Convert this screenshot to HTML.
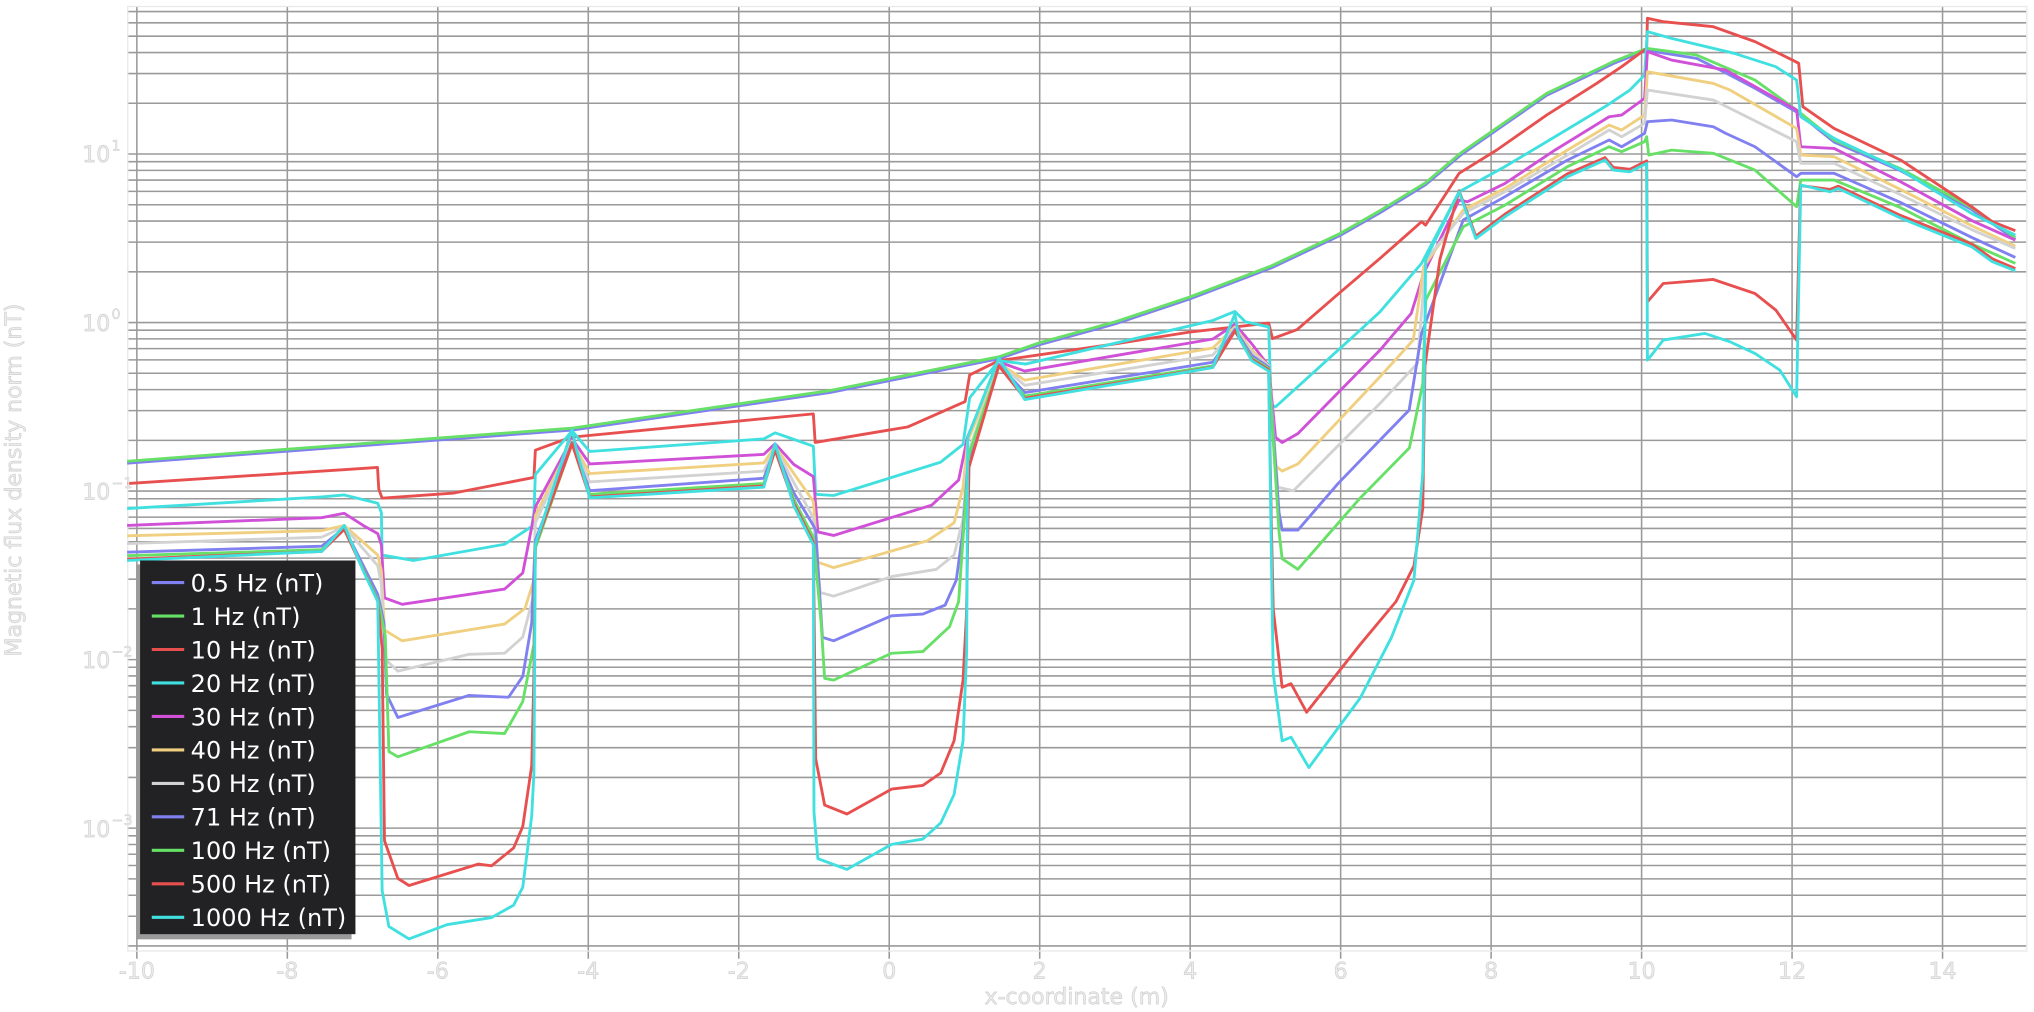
<!DOCTYPE html>
<html><head><meta charset="utf-8"><style>
html,body{margin:0;padding:0;background:#fff;}
svg{display:block;}
text{font-family:"DejaVu Sans","Liberation Sans",sans-serif;}
</style></head><body>
<svg width="2034" height="1012" viewBox="0 0 1568 780" preserveAspectRatio="none" xmlns="http://www.w3.org/2000/svg">
<rect x="0" y="0" width="1568" height="780" fill="#fff"/>
<g stroke="#9a9a9a" stroke-width="1.2" fill="none">
<path d="M98,118.7H1562M98,79.6H1562M98,56.7H1562M98,40.5H1562M98,27.9H1562M98,17.6H1562M98,8.9H1562
M98,248.6H1562M98,209.5H1562M98,186.6H1562M98,170.4H1562M98,157.8H1562M98,147.5H1562M98,138.8H1562M98,131.3H1562M98,124.6H1562
M98,378.5H1562M98,339.4H1562M98,316.5H1562M98,300.3H1562M98,287.7H1562M98,277.4H1562M98,268.7H1562M98,261.2H1562M98,254.5H1562
M98,508.4H1562M98,469.3H1562M98,446.4H1562M98,430.2H1562M98,417.6H1562M98,407.3H1562M98,398.6H1562M98,391.1H1562M98,384.4H1562
M98,638.3H1562M98,599.2H1562M98,576.3H1562M98,560.1H1562M98,547.5H1562M98,537.2H1562M98,528.5H1562M98,521H1562M98,514.3H1562
M98,729.1H1562M98,706.2H1562M98,690H1562M98,677.4H1562M98,667.1H1562M98,658.4H1562M98,650.9H1562M98,644.2H1562"/>
<path d="M105.5,5V739M221.5,5V739M337.5,5V739M453.5,5V739M569.5,5V739M685.5,5V739M801.5,5V739M917.5,5V739M1033.5,5V739M1149.5,5V739M1265.5,5V739M1381.5,5V739M1497.5,5V739"/>
</g>
<rect x="98.5" y="5" width="1464" height="728" fill="none" stroke="#e8e8e8" stroke-width="1"/>
<g fill="none" stroke-width="2.2" stroke-linejoin="round">
<polyline stroke="#8080f0" points="98,357 265,344.5 441,331.5 640,302.5 770,276.5 802,265.5 860,249.5 917,230.5 980,206.5 1033,181.5 1063.8,164 1099,142.3 1126.4,119.2 1192.3,73.5 1243.7,49 1269.4,38.8 1307.9,45 1330,56 1352.9,68 1385,86.3 1413.9,109.5 1465,131.5 1520,161.5 1553.6,184.5"/>
<polyline stroke="#66e066" points="98,355.5 265,343 441,330 640,301 770,275 802,264 860,248 917,229 980,205 1033,180 1063.8,162.4 1099,140.8 1126.4,117.7 1192.3,72 1243.7,47.5 1269.4,37.3 1307.9,42.4 1352.9,61.7 1385,84.8 1413.9,108 1465,130 1520,160 1553.6,183"/>
<polyline stroke="#e85050" points="98,372.7 265,362 291,360.3 292,377 294.6,384 350,380 411.6,368 412.7,347 440,337 627,319 628.4,341 700,329 744,309.5 747.5,289 770,278 860,265 917,256 978,249 981,261 1000,254 1030,228 1063.8,199.2 1095.9,170.9 1099,173.5 1124.8,133.6 1153.7,115.7 1192.3,88.7 1230.8,64.3 1250.1,51.4 1269.4,37.3 1270,14.1 1282.2,16.7 1320.8,20.6 1352.9,32.1 1381.8,46.3 1386.6,48.8 1389.8,82.2 1413.9,99 1465.3,123.4 1519.9,159.3 1535.9,170.9 1553.6,177.8"/>
<polyline stroke="#40e0e0" points="98,392 248,383 265.4,381.5 291.2,387.9 294,395 294.6,427.8 318.7,432 389,419.5 409.9,405.8 411.6,395 412.7,365.8 441,332 454.6,348 588.8,338.3 597.5,333.6 610,338 627,343.9 628.8,381 642.6,381.9 725,356.3 742.4,342.5 747.5,306.7 770,278 790.6,280.6 935,247 952,240 960,248 978,252 980,312 983.3,313.6 1048.6,254.4 1063.8,240.3 1095.9,203 1124.8,147.8 1160,128.5 1198.7,105.4 1237.3,82.2 1256.5,69.4 1267.8,57.8 1270,24.4 1288.6,29.6 1336.8,41.1 1368.9,51.4 1385,61.7 1388.2,90 1413.9,106.7 1465.3,131 1519.9,164.5 1553.6,181.2"/>
<polyline stroke="#d050d8" points="98,405 248,399 265.4,395.6 280,405 291.2,411.3 294,420 296.4,460.8 310,465.8 389,454 403,441.6 411.6,397.5 412.7,390.6 441,338 454.6,357.6 588.8,350.2 597.5,342 612,358 627,367.3 630.5,410 642.6,412.7 718.3,389.3 739,370 745.8,337 770,279 790,286 935,261.3 952,250 965,265 978,282 983.3,337 988.4,341.1 1000.5,334.2 1063.8,269.9 1087.9,241.6 1097.5,210.7 1124.8,154.2 1131.3,155.5 1160.2,141.4 1198.7,115.7 1240.5,90 1250.1,88.7 1267.8,75.8 1270,39.8 1288.6,46.3 1330.4,54 1385,84.8 1388.2,113.1 1413.9,114.4 1465,140 1520,170 1553.6,185"/>
<polyline stroke="#f0d080" points="98,413 248,409 265.4,405 291.2,427.8 294,440 296.4,485.6 310,493.9 389,481 404.7,469 411.6,447 412.7,397.5 441,340 454.6,365 588.8,356.8 597.5,344 612,365 627,386.5 630.5,433.3 642.6,437.5 714.9,416.8 735.5,403 742.4,375.5 746,340 770,280 790,293 935,268.2 952,252 965,270 978,282 983.3,359 988.4,363.1 1000.5,357.6 1063.8,290.4 1089.5,262.1 1097.5,205.6 1128,161.9 1160.2,145.2 1208.3,115.7 1240.5,96.4 1250.1,100.2 1267.8,88.7 1270,55.3 1320.8,64.3 1333.6,69.4 1385,99 1388.2,119.5 1413.9,120.8 1465,146 1520,174 1553.6,189.7"/>
<polyline stroke="#d2d2d2" points="98,419 248,414 265.4,406 291.2,436 294,450 296.4,507.6 306.7,517.3 361.7,504.3 389,503.5 403,491 411.6,458 412.7,403 441,341 454.6,371.4 588.8,363.1 597.5,345 612,372 627,399 632.3,456.7 642.6,459.5 687.3,444.4 721.7,438.9 735.5,427.8 742.4,400.3 746,350 770,280 790,297 935,273.7 952,253 965,272 978,282 985,375.5 997,378.3 1063.8,311 1092.7,280.1 1099.1,200.5 1128,164.5 1160.2,147.8 1208.3,119.5 1240.5,100.2 1250.1,105.4 1267.8,95.1 1270,69.4 1320.8,77.1 1385,109.2 1388.2,125.9 1413.9,125.9 1465,150 1520,177 1553.6,191.5"/>
<polyline stroke="#8080f0" points="98,425.6 248,421 265.4,407 291.2,458 296,480 298,535.2 306.7,553 361.7,536 392,537.4 403,521.4 409.9,480 411.6,440 412.7,416.8 441,341 454.6,378.2 588.8,368.6 597.5,346 612,380 627,405 628.8,408.6 634,491.2 642.6,493.9 687.3,474.6 711.4,473.3 728.6,466.4 737.2,447.1 742.4,408.6 746,360 770,281 790,302.6 935,279.2 952,254 965,274 978,283 986,395 988.4,408.6 1000.5,408.6 1031.4,372.8 1063.8,339.2 1086.3,316.1 1095.9,257 1128,169.6 1160.2,151.6 1208.3,123.4 1240.5,107.9 1250.1,113.1 1267.8,102.8 1270,93.8 1288.6,92.5 1320.8,97.7 1330.4,102.8 1352.9,113.1 1385,136.2 1388.2,133.6 1413.9,133.6 1465,156 1520,183 1553.6,198.4"/>
<polyline stroke="#66e066" points="98,428.3 248,423.7 265.4,408 291.2,462 297,490 299.8,579.2 306.7,583.3 361.7,564 389,565.4 403,540.7 411.6,496.6 412.7,422.3 441,342 454.6,381 588.8,372.7 597.5,347 612,385 627,414 633,480 635.7,522.8 642.6,524.2 687.3,503.5 711.4,502.2 732,483 739,463.6 744,392 747,350 770,282 790,305.3 935,282 952,255 965,276 978,284 986,410 988.4,430.6 1000.5,438.8 1048.6,383.8 1086.5,345.2 1096.8,295.7 1099.1,231.3 1128,174.8 1160.2,158.1 1208.3,128.5 1240.5,113.1 1250.1,116.9 1267.8,109.2 1269.4,105.4 1271,119.5 1288.6,115.7 1320.8,118.2 1352.9,131.1 1385,159.3 1388.2,138.8 1413.9,138.8 1465,160 1520,188 1553.6,203"/>
<polyline stroke="#e85050" points="98,431 248,425 265.4,408 291.2,463 294.6,500 296.4,648 306.7,677 315.3,682.5 368.6,666 379,667.3 396,653.5 403,637 409.9,590.2 411.6,520 412.7,420 441,342 454.6,383 588.8,374.5 597.5,347 612,388 627,418 628.8,584.8 635.7,620.5 652.9,627.4 687.3,608.2 711.4,605.4 725.2,595.8 735.5,571 742.4,524.2 745,474.6 747,360 770,282 790,307 935,283 952,255 965,277 978,285 980,400 981.5,469.1 988.4,529.7 995.3,527 1007.3,549 1048.6,496.7 1076.2,463.6 1090,436.1 1096.8,392 1098.5,282 1110,200 1124.8,147 1137.7,182 1160.2,165 1208.3,134 1237.3,121.5 1243.7,129 1256.5,130.5 1269.4,124 1270,232.6 1282.2,218.5 1320.8,215.4 1352.9,226.2 1369,239 1385,262.1 1388,143 1410.7,146 1417.1,143.5 1465,166 1519.9,188 1535.9,199.5 1553.6,207"/>
<polyline stroke="#40e0e0" points="98,432 248,425 265.4,405 280,440 291.2,463.6 294.6,686.6 299.8,714.1 315.3,723.7 344.5,712.7 379,707.2 396,697.6 403,683.8 409.9,628.8 411.6,595.7 412.7,419.6 441,331 444,345 454.6,383.7 588.8,375.5 597.5,342 612,390 627,420 627.5,626 630.5,661.8 652.9,670.1 687.3,650.8 711.4,646.7 725.2,634.3 735.5,612.3 742.4,571 745.2,502.2 746,337 770,276 790,308 935,283.3 952,242 955,260 965,278 978,286 980,420 981.5,518.7 988.4,571 995.3,568.2 1009,591.6 1048.6,538 1072.7,491.2 1090,447.1 1096.8,364.5 1098.5,250 1099,200 1124.8,147.8 1137.7,183.8 1160.2,167 1208.3,136.2 1237.3,123.4 1243.7,131.1 1256.5,132.4 1269.4,125.9 1270,277.6 1282.2,262.1 1314.3,257 1333.6,263.4 1352.9,272.4 1372.1,285.3 1385,305.8 1388.2,142.6 1410.7,147.8 1417.1,145.2 1465,168 1519.9,190.2 1535.9,201.7 1553.6,208.7"/>
</g>
<!-- legend -->
<rect x="105" y="435" width="166" height="289" fill="#9a9a9a"/>
<rect x="108" y="432" width="166" height="288" fill="#222224"/>
<g stroke-width="2.4">
<line x1="117" y1="449" x2="142" y2="449" stroke="#8080f0"/>
<line x1="117" y1="474.8" x2="142" y2="474.8" stroke="#66e066"/>
<line x1="117" y1="500.6" x2="142" y2="500.6" stroke="#e85050"/>
<line x1="117" y1="526.4" x2="142" y2="526.4" stroke="#40e0e0"/>
<line x1="117" y1="552.2" x2="142" y2="552.2" stroke="#d050d8"/>
<line x1="117" y1="578" x2="142" y2="578" stroke="#f0d080"/>
<line x1="117" y1="603.8" x2="142" y2="603.8" stroke="#d2d2d2"/>
<line x1="117" y1="629.6" x2="142" y2="629.6" stroke="#8080f0"/>
<line x1="117" y1="655.4" x2="142" y2="655.4" stroke="#66e066"/>
<line x1="117" y1="681.2" x2="142" y2="681.2" stroke="#e85050"/>
<line x1="117" y1="707" x2="142" y2="707" stroke="#40e0e0"/>
</g>
<g fill="#ffffff" font-size="18.5">
<text x="147" y="455.8">0.5 Hz (nT)</text>
<text x="147" y="481.6">1 Hz (nT)</text>
<text x="147" y="507.4">10 Hz (nT)</text>
<text x="147" y="533.2">20 Hz (nT)</text>
<text x="147" y="559">30 Hz (nT)</text>
<text x="147" y="584.8">40 Hz (nT)</text>
<text x="147" y="610.6">50 Hz (nT)</text>
<text x="147" y="636.4">71 Hz (nT)</text>
<text x="147" y="662.2">100 Hz (nT)</text>
<text x="147" y="688">500 Hz (nT)</text>
<text x="147" y="713.8">1000 Hz (nT)</text>
</g>
<!-- axis labels -->
<g fill="#ececec" stroke="#cfcfcf" stroke-width="0.5" font-size="17" text-anchor="middle">
<text x="105.5" y="754">-10</text><text x="221.5" y="754">-8</text><text x="337.5" y="754">-6</text><text x="453.5" y="754">-4</text><text x="569.5" y="754">-2</text><text x="685.5" y="754">0</text><text x="801.5" y="754">2</text><text x="917.5" y="754">4</text><text x="1033.5" y="754">6</text><text x="1149.5" y="754">8</text><text x="1265.5" y="754">10</text><text x="1381.5" y="754">12</text><text x="1497.5" y="754">14</text>
<text x="830" y="774">x-coordinate (m)</text>
<text transform="translate(16,370) rotate(-90)">Magnetic flux density norm (nT)</text>
</g>
<g fill="#ececec" stroke="#cfcfcf" stroke-width="0.5" font-size="17" text-anchor="end">
<text x="85" y="125">10</text><text x="85" y="255">10</text><text x="85" y="385">10</text><text x="85" y="515">10</text><text x="85" y="645">10</text>
</g>
<g fill="#ececec" stroke="#cfcfcf" stroke-width="0.4" font-size="11" text-anchor="start">
<text x="86" y="116">1</text><text x="86" y="246">0</text><text x="86" y="376">−1</text><text x="86" y="506">−2</text><text x="86" y="636">−3</text>
</g>
</svg>
</body></html>
